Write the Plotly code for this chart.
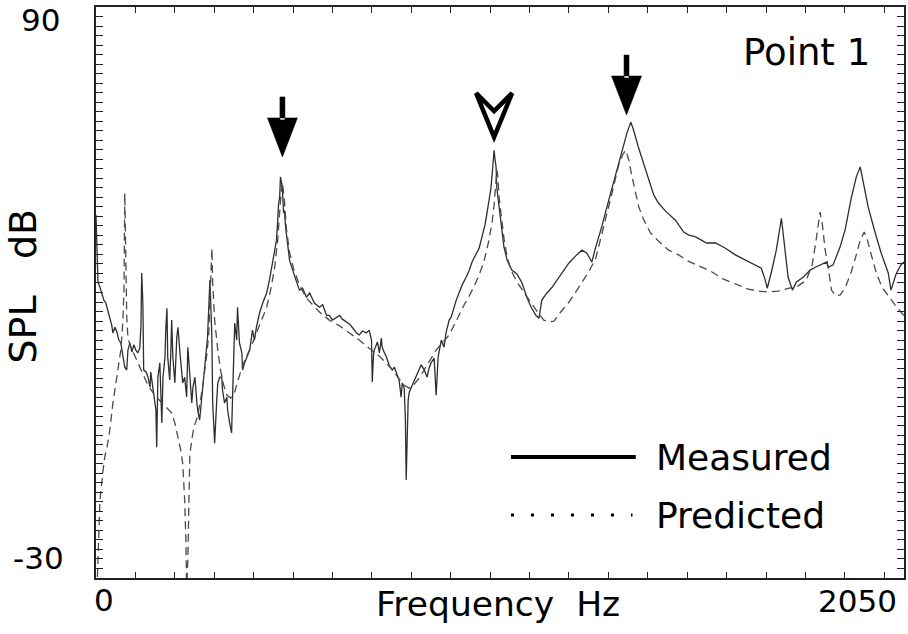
import plotly.graph_objects as go

# ---------------- data ----------------
meas_freq = [0, 2.5, 5, 10, 15, 20, 25, 30, 35, 40, 43, 48, 53, 58, 63, 68, 73, 78, 81, 86,
             91, 96, 101, 106, 111, 114, 116, 119, 121, 127, 132, 137, 139, 144, 149, 152, 154, 157, 162, 165,
             167, 170, 175, 177, 180, 182, 187, 190, 192, 195, 200, 205, 208, 213, 218, 220, 225, 230, 233, 238,
             243, 246, 251, 256, 258, 263, 268, 271, 276, 281, 283, 289, 291, 294, 296, 301, 306, 309, 314, 319,
             321, 326, 332, 334, 339, 344, 347, 352, 354, 357, 359, 364, 370, 372, 377, 382, 390, 397, 402, 407,
             415, 423, 433, 440, 448, 453, 458, 461, 463, 466, 468, 471, 473, 476, 478, 481, 486, 491, 499, 509,
             516, 524, 534, 542, 549, 554, 567, 575, 585, 592, 600, 610, 618, 625, 635, 643, 650, 661, 668, 676,
             686, 693, 699, 701, 704, 706, 714, 719, 724, 726, 731, 737, 744, 752, 757, 762, 769, 774, 777, 782,
             785, 787, 790, 792, 795, 800, 807, 815, 820, 825, 833, 840, 845, 850, 858, 863, 868, 876, 883, 888,
             896, 901, 914, 921, 929, 939, 947, 954, 964, 972, 979, 987, 992, 997, 1002, 1007, 1010, 1012, 1015, 1017,
             1022, 1028, 1035, 1043, 1055, 1068, 1081, 1093, 1104, 1116, 1124, 1131, 1144, 1157, 1169, 1182, 1200, 1217, 1233, 1245,
             1258, 1268, 1283, 1301, 1319, 1334, 1347, 1357, 1364, 1377, 1395, 1415, 1427, 1445, 1470, 1491, 1503, 1521, 1536, 1549,
             1572, 1597, 1622, 1648, 1673, 1688, 1698, 1703, 1713, 1726, 1739, 1746, 1756, 1767, 1777, 1794, 1812, 1825, 1840, 1853,
             1858, 1870, 1888, 1901, 1916, 1929, 1939, 1946, 1959, 1977, 1992, 2010, 2017, 2030, 2042, 2050]
meas_db = [46.3, 40.0, 32.2, 31.1, 29.9, 28.4, 27.8, 26.3, 24.6, 23.1, 21.5, 22.7, 21.7, 20.0, 19.4, 16.4, 14.3, 13.7, 17.9, 19.4,
           17.5, 19.0, 17.9, 17.3, 18.3, 22.7, 34.1, 27.4, 13.7, 13.3, 12.2, 10.1, 13.3, 10.1, 7.4, 5.3, -2.5, 12.2, 15.2, 7.4,
           2.6, 12.2, 16.4, 22.1, 26.7, 16.4, 11.6, 17.9, 24.2, 16.4, 11.0, 20.6, 22.7, 17.3, 13.7, 11.0, 12.2, 8.0, 18.5, 12.2,
           6.8, 10.1, 12.2, 6.8, 5.3, 3.2, 7.4, 11.0, 15.2, 19.4, 20.6, 32.6, 28.4, 20.6, 6.8, -1.7, 6.8, 11.0, 12.2, 12.2,
           9.5, 6.8, 8.0, 5.3, 2.6, 0.5, 9.5, 23.6, 22.1, 20.0, 26.9, 19.4, 17.3, 13.7, 15.2, 16.4, 17.9, 22.1, 20.0, 22.7,
           25.7, 27.8, 29.9, 32.6, 36.2, 37.9, 41.0, 45.2, 48.4, 50.1, 54.3, 53.0, 51.5, 46.7, 47.3, 43.8, 39.6, 36.8, 34.7, 32.0,
           30.5, 30.9, 29.0, 29.9, 28.8, 27.8, 26.9, 27.4, 25.2, 25.2, 24.2, 24.8, 25.2, 24.4, 23.8, 23.4, 22.7, 21.5, 21.1, 21.9,
           21.5, 22.1, 20.0, 11.2, 16.8, 17.9, 19.6, 17.3, 20.4, 18.5, 17.5, 16.4, 14.7, 13.7, 14.3, 13.1, 11.6, 8.0, 11.0, 9.9,
           3.2, -9.4, -1.0, 7.4, 9.1, 10.1, 11.2, 13.1, 14.1, 14.8, 13.7, 12.2, 14.1, 15.2, 16.2, 8.4, 16.4, 20.0, 18.5, 21.5,
           24.2, 24.8, 28.4, 29.9, 31.6, 33.2, 34.7, 36.4, 37.9, 39.3, 41.6, 44.2, 46.7, 49.4, 51.9, 56.8, 59.9, 58.3, 56.4, 51.9,
           48.4, 43.8, 39.6, 36.8, 34.7, 33.9, 32.0, 29.0, 26.9, 25.2, 24.6, 28.4, 29.9, 31.1, 32.6, 34.1, 36.2, 37.7, 38.9, 38.3,
           36.4, 39.6, 43.8, 49.4, 55.1, 59.9, 63.5, 65.8, 64.1, 60.3, 55.5, 50.5, 48.8, 47.1, 45.2, 42.7, 42.1, 41.7, 41.0, 40.4,
           40.4, 39.3, 37.9, 36.8, 35.8, 35.1, 32.6, 30.9, 34.1, 38.9, 45.6, 41.0, 33.2, 30.5, 32.2, 33.2, 34.7, 35.3, 35.8, 36.4,
           35.3, 35.8, 39.6, 43.3, 49.8, 54.3, 56.4, 53.6, 48.0, 42.5, 38.3, 34.1, 30.5, 33.9, 35.8, 36.4]

pred_freq = [2.5, 10, 18, 23, 28, 35, 43, 51, 58, 63, 68, 71, 73, 76, 78, 81, 86, 94, 101, 111,
             121, 132, 149, 167, 182, 192, 200, 208, 215, 220, 225, 228, 230, 233, 235, 238, 243, 248, 256, 263,
             271, 276, 281, 286, 291, 294, 296, 301, 309, 316, 324, 332, 342, 352, 359, 370, 382, 395, 407, 420,
             433, 443, 453, 461, 466, 471, 473, 478, 483, 491, 501, 516, 534, 549, 567, 592, 618, 643, 668, 693,
             719, 744, 764, 782, 795, 807, 820, 833, 845, 863, 881, 896, 909, 921, 934, 947, 959, 972, 984, 997,
             1005, 1010, 1015, 1017, 1020, 1022, 1028, 1035, 1043, 1053, 1068, 1086, 1104, 1124, 1136, 1149, 1162, 1179, 1200, 1217,
             1233, 1250, 1268, 1283, 1296, 1311, 1326, 1336, 1344, 1352, 1359, 1367, 1377, 1390, 1407, 1427, 1453, 1478, 1503, 1529,
             1559, 1592, 1622, 1655, 1680, 1706, 1731, 1756, 1782, 1802, 1817, 1827, 1835, 1837, 1843, 1850, 1858, 1866, 1876, 1888,
             1901, 1916, 1929, 1939, 1949, 1956, 1967, 1979, 1994, 2010, 2027, 2042, 2050]
pred_db = [-32.5, -13.6, -7.3, -4.2, -2.5, 1.1, 6.8, 11.0, 14.8, 17.9, 23.6, 30.5, 50.9, 36.8, 24.8, 20.6, 19.0, 17.5, 16.2, 14.3,
           12.6, 10.5, 8.4, 6.9, 5.7, 4.7, 2.6, -0.4, -3.1, -5.9, -13.6, -22.0, -32.5, -26.2, -13.6, -4.2, -1.0, 1.5, 3.6, 6.3,
           10.5, 13.3, 16.9, 21.1, 30.5, 39.3, 32.0, 24.2, 17.9, 13.7, 10.5, 8.4, 7.8, 9.1, 11.2, 14.1, 16.6, 18.9, 21.5, 24.2,
           26.9, 30.5, 35.1, 41.0, 47.3, 52.6, 53.2, 49.4, 43.5, 38.5, 35.1, 31.6, 28.8, 27.4, 25.9, 24.2, 23.0, 21.5, 20.0, 18.3,
           16.6, 14.5, 12.4, 10.5, 9.9, 10.7, 12.0, 13.7, 15.4, 17.9, 19.6, 21.1, 23.2, 25.3, 27.4, 29.3, 31.2, 33.7, 36.4, 41.0,
           44.8, 48.4, 52.6, 55.7, 54.1, 50.5, 46.3, 41.4, 37.5, 34.7, 32.2, 29.9, 27.8, 25.5, 24.2, 23.8, 24.0, 25.9, 28.0, 30.1,
           32.2, 34.3, 37.2, 42.1, 46.3, 51.5, 56.8, 58.9, 59.9, 57.8, 54.7, 51.5, 48.0, 45.2, 42.5, 40.8, 38.9, 37.9, 36.6, 35.6,
           34.5, 32.8, 31.8, 30.7, 30.3, 30.1, 30.3, 30.9, 31.4, 32.6, 35.8, 41.0, 46.3, 46.9, 44.2, 38.9, 35.1, 30.5, 29.3, 29.5,
           31.0, 34.3, 37.9, 41.0, 42.7, 41.4, 37.9, 34.3, 31.1, 29.2, 27.4, 25.9, 25.1]

x_range = [0, 2050]
y_range = [-30, 90]
x_labels = ["0", "2050"]
y_labels = ["90", "-30"]

# arrows marking the resonances (tip position in data units)
arrow_freq = [473, 1010, 1346]
arrow_db = [58.5, 61.6, 67.3]
arrow_open = [False, True, False]

legend_names = ["Measured", "Predicted"]

# ---------------- figure ----------------
FONT = "DejaVu Sans"
fig = go.Figure()
fig.add_trace(go.Scatter(x=meas_freq, y=meas_db, mode="lines", name=legend_names[0],
                         line=dict(color="#2e2e2e", width=1.3), showlegend=False))
fig.add_trace(go.Scatter(x=pred_freq, y=pred_db, mode="lines", name=legend_names[1],
                         line=dict(color="#4a4a4a", width=1.3, dash="8px,5px"), showlegend=False))

shapes = []
filled_path = "M-15,39 L15,39 L0,0 Z M-2.5,37 L2.5,37 L2.5,60 L-2.5,60 Z"
open_path = "M0,5 L-18,49 L0,31 L18,49 Z"
for f, d, op in zip(arrow_freq, arrow_db, arrow_open):
    if op:
        shapes.append(dict(type="path", xref="x", yref="y", xsizemode="pixel", ysizemode="pixel",
                           xanchor=f, yanchor=d, path=open_path, fillcolor="white",
                           line=dict(color="black", width=4.5)))
    else:
        shapes.append(dict(type="path", xref="x", yref="y", xsizemode="pixel", ysizemode="pixel",
                           xanchor=f, yanchor=d, path=filled_path, fillcolor="black",
                           line=dict(color="black", width=0.5)))

# legend samples
shapes.append(dict(type="line", xref="paper", yref="paper", x0=0.5136, x1=0.668, y0=0.2119, y1=0.2119,
                   line=dict(color="black", width=4)))
shapes.append(dict(type="line", xref="paper", yref="paper", x0=0.5136, x1=0.664, y0=0.1103, y1=0.1103,
                   line=dict(color="black", width=3, dash="3px,17px")))

ann = []
def txt(s, x, y, size, xanchor="center", yanchor="middle", angle=0):
    ann.append(dict(text=s, x=x, y=y, xref="paper", yref="paper", showarrow=False,
                    xanchor=xanchor, yanchor=yanchor, textangle=angle,
                    font=dict(family=FONT, size=size, color="black")))

txt(y_labels[0], -0.069, 0.978, 31)
txt(y_labels[1], -0.0716, 0.035, 31)
txt(x_labels[0], 0.0099, -0.0386, 31)
txt(x_labels[1], 0.942, -0.040, 31)
txt("Frequency  Hz", 0.498, -0.0456, 34.5)
txt("SPL   dB", -0.0900, 0.511, 38, angle=-90)
txt("Point 1", 0.879, 0.921, 37)
txt(legend_names[0], 0.690, 0.2119, 36, xanchor="left")
txt(legend_names[1], 0.690, 0.1103, 36, xanchor="left")

axis_common = dict(showline=True, linecolor="#222", linewidth=1.5, mirror="ticks",
                   ticks="inside", tickcolor="#222", tickwidth=1.2, showgrid=False,
                   zeroline=False, showticklabels=False)
fig.update_layout(
    width=908, height=634,
    margin=dict(l=96, r=2, t=7, b=56),
    paper_bgcolor="white", plot_bgcolor="white",
    xaxis=dict(range=x_range, tick0=0, dtick=100, ticklen=6, **axis_common),
    yaxis=dict(range=y_range, tick0=-30, dtick=2, ticklen=7, **axis_common),
    shapes=shapes, annotations=ann, showlegend=False,
)
# remove the default 8px page margin so the figure fills the window exactly
fig.write_html("out.html", config={"displayModeBar": False},
               post_script="document.body.style.margin='0';document.body.style.overflow='hidden';")
